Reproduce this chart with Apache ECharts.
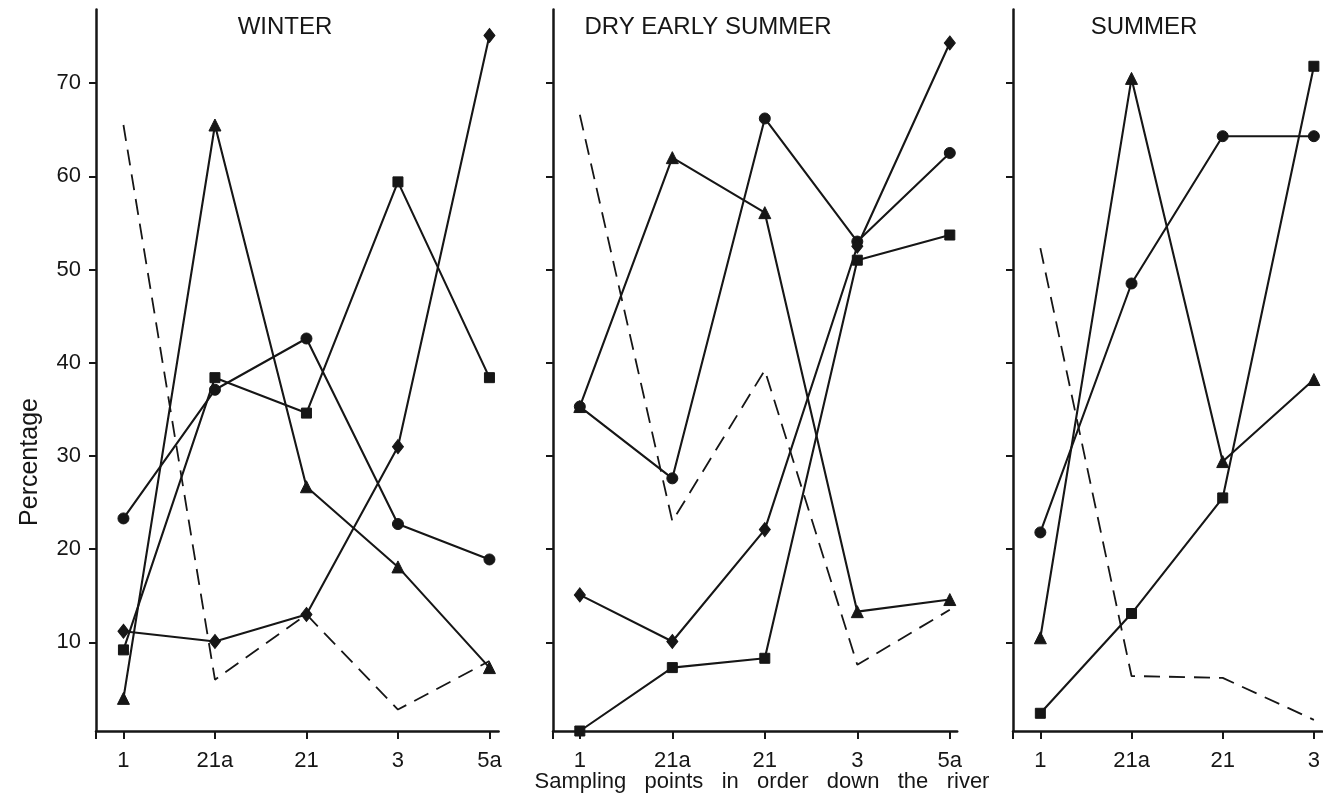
<!DOCTYPE html>
<html><head><meta charset="utf-8">
<script src="https://cdn.jsdelivr.net/npm/echarts@6/dist/echarts.min.js"></script>
<style>html,body{margin:0;padding:0;background:#fff}#c{width:1323px;height:806px}</style>
</head><body><div id="c"></div>
<script>
// ---- data ----
const categories = ['1', '21a', '21', '3', '5a'];
const summerCategories = ['1', '21a', '21', '3'];
const yTickValues = [10, 20, 30, 40, 50, 60, 70];
const panelTitles = ['WINTER', 'DRY EARLY SUMMER', 'SUMMER'];
const yAxisTitle = 'Percentage';
const xAxisTitle = 'Sampling   points   in   order   down   the   river';

// WINTER
const winterTriangle = [4.0, 65.5, 26.7, 18.1, 7.3];
const winterCircle   = [23.3, 37.1, 42.6, 22.7, 18.9];
const winterSquare   = [9.2, 38.4, 34.6, 59.4, 38.4];
const winterDiamond  = [11.2, 10.1, 13.0, 31.0, 75.1];
const winterDashed   = [65.5, 6.0, 13.0, 2.8, 8.0];

// DRY EARLY SUMMER
const drySummerTriangle = [35.3, 62.0, 56.1, 13.3, 14.6];
const drySummerCircle   = [35.3, 27.6, 66.2, 53.0, 62.5];
const drySummerSquare   = [0.5, 7.3, 8.3, 51.0, 53.7];
const drySummerDiamond  = [15.1, 10.1, 22.1, 52.5, 74.3];
const drySummerDashed   = [66.6, 23.0, 39.2, 7.6, 13.5];

// SUMMER
const summerTriangle = [10.5, 70.5, 29.4, 38.2];
const summerCircle   = [21.8, 48.5, 64.3, 64.3];
const summerSquare   = [2.4, 13.1, 25.5, 71.8];
const summerDashed   = [52.3, 6.4, 6.2, 1.7];

// ---- layout ----
const FONT = '"Liberation Sans", sans-serif';
const INK = '#161616';
const yMin = 0.5, yMax = 77.9;
const panels = [
  { cats: categories,       left: 96,   width: 402.6, xMin: -0.3,  xMax: 4.1,  labels: true },
  { cats: categories,       left: 553,  width: 404.2, xMin: -0.29, xMax: 4.08, labels: false },
  { cats: summerCategories, left: 1013, width: 309.5, xMin: -0.3,  xMax: 3.09, labels: false }
];

const grids = [], xAxes = [], yAxes = [];
panels.forEach((p, i) => {
  grids.push({ left: p.left, width: p.width, top: 9.4, height: 721.6, containLabel: false });
  const idx = p.cats.map((_, k) => k);
  xAxes.push({
    type: 'value', gridIndex: i, min: p.xMin, max: p.xMax,
    splitLine: { show: false },
    axisLine: { onZero: false, lineStyle: { color: INK, width: 2.5 } },
    axisTick: { show: true, length: 8, customValues: [p.xMin].concat(idx), lineStyle: { color: INK, width: 2 } },
    axisLabel: {
      customValues: idx, margin: 19, color: INK, fontFamily: FONT, fontSize: 22,
      formatter: v => p.cats[Math.round(v)] || ''
    }
  });
  yAxes.push({
    type: 'value', gridIndex: i, min: yMin, max: yMax,
    splitLine: { show: false },
    axisLine: { onZero: false, lineStyle: { color: INK, width: 2.5 } },
    axisTick: { show: true, length: 7, customValues: yTickValues, lineStyle: { color: INK, width: 2 } },
    axisLabel: {
      show: p.labels, customValues: yTickValues, margin: 15, color: INK,
      fontFamily: FONT, fontSize: 22
    }
  });
});

function line(values, gi, symbol, size, dashed) {
  return {
    type: 'line', xAxisIndex: gi, yAxisIndex: gi,
    data: values.map((v, k) => [k, v]),
    symbol: dashed ? 'none' : symbol, symbolSize: size, showSymbol: !dashed,
    lineStyle: { color: INK, width: dashed ? 1.8 : 2.1, type: dashed ? [16, 9] : 'solid' },
    itemStyle: { color: INK, borderColor: INK },
    z: dashed ? 2 : 3, silent: true, animation: false
  };
}

const series = [
  line(winterDashed, 0, 'none', 0, true),
  line(winterTriangle, 0, 'triangle', 12),
  line(winterCircle, 0, 'circle', 11),
  line(winterSquare, 0, 'rect', 10),
  line(winterDiamond, 0, 'diamond', [11, 14]),
  line(drySummerDashed, 1, 'none', 0, true),
  line(drySummerTriangle, 1, 'triangle', 12),
  line(drySummerCircle, 1, 'circle', 11),
  line(drySummerSquare, 1, 'rect', 10),
  line(drySummerDiamond, 1, 'diamond', [11, 14]),
  line(summerDashed, 2, 'none', 0, true),
  line(summerTriangle, 2, 'triangle', 12),
  line(summerCircle, 2, 'circle', 11),
  line(summerSquare, 2, 'rect', 10)
];

const titleCenters = [[285, 27], [708, 27], [1144, 27]];
const graphic = panelTitles.map((t, i) => ({
  type: 'text', x: titleCenters[i][0], y: titleCenters[i][1],
  style: { text: t, font: '24px ' + FONT, fill: INK, textAlign: 'center', textVerticalAlign: 'middle' }
}));
graphic.push({
  type: 'text', x: 30, y: 462, rotation: Math.PI / 2,
  style: { text: yAxisTitle, font: '25px ' + FONT, fill: INK, textAlign: 'center', textVerticalAlign: 'middle' }
});
graphic.push({
  type: 'text', x: 762, y: 782,
  style: { text: xAxisTitle, font: '22px ' + FONT, fill: INK, textAlign: 'center', textVerticalAlign: 'middle' }
});

const chart = echarts.init(document.getElementById('c'), null, { renderer: 'canvas' });
chart.setOption({
  backgroundColor: '#ffffff',
  animation: false,
  grid: grids, xAxis: xAxes, yAxis: yAxes,
  series: series, graphic: graphic
});
</script></body></html>
